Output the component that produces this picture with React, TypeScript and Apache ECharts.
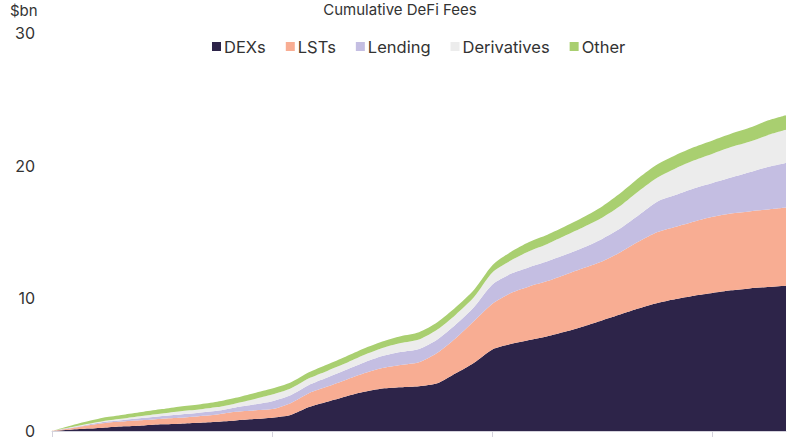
import React, { useEffect, useRef } from "react";
import * as echarts from "echarts";

const months = ["Jan", "Feb", "Mar", "Apr", "May", "Jun", "Jul", "Aug", "Sep", "Oct", "Nov", "Dec"];
const categories: string[] = [];
for (let y = 2020; y <= 2023; y++) {
  for (const m of months) {
    if (categories.length < 41) categories.push(`${m}-${String(y).slice(2)}`);
  }
}

const dexs = [
  0, 0.1, 0.18, 0.27, 0.35, 0.42, 0.5, 0.55, 0.62, 0.7, 0.8, 0.9, 1.0,
  1.2, 1.8, 2.2, 2.6, 2.95, 3.2, 3.3, 3.38, 3.6, 4.35, 5.15, 6.15, 6.55,
  6.85, 7.15, 7.5, 7.9, 8.35, 8.8, 9.25, 9.65, 9.95, 10.2, 10.4, 10.6, 10.75, 10.85, 10.95,
];
const lsts = [
  0, 0.1, 0.25, 0.35, 0.38, 0.4, 0.43, 0.45, 0.5, 0.55, 0.65, 0.65, 0.65,
  0.9, 1.05, 1.15, 1.25, 1.4, 1.55, 1.68, 1.8, 2.3, 2.65, 3.15, 3.45, 3.85,
  4.05, 4.15, 4.3, 4.4, 4.45, 4.7, 5.05, 5.35, 5.45, 5.6, 5.75, 5.8, 5.8, 5.85, 5.9,
];
const lending = [
  0, 0.04, 0.06, 0.09, 0.12, 0.17, 0.2, 0.25, 0.26, 0.28, 0.33, 0.45, 0.6,
  0.6, 0.62, 0.68, 0.75, 0.82, 0.9, 0.97, 1.0, 1.0, 1.02, 1.05, 1.45, 1.45,
  1.45, 1.5, 1.5, 1.55, 1.7, 1.8, 2.0, 2.3, 2.4, 2.5, 2.55, 2.7, 2.95, 3.2, 3.35,
];
const derivatives = [
  0, 0.04, 0.06, 0.09, 0.12, 0.16, 0.19, 0.24, 0.24, 0.27, 0.3, 0.4, 0.5,
  0.5, 0.5, 0.5, 0.5, 0.55, 0.6, 0.68, 0.72, 0.75, 0.75, 0.75, 0.9, 1.0,
  1.2, 1.3, 1.45, 1.55, 1.6, 1.7, 1.8, 1.8, 2.0, 2.1, 2.2, 2.3, 2.3, 2.4, 2.5,
];
const other = [
  0, 0.12, 0.2, 0.25, 0.28, 0.3, 0.33, 0.36, 0.38, 0.4, 0.42, 0.45, 0.45,
  0.45, 0.45, 0.48, 0.5, 0.5, 0.5, 0.52, 0.55, 0.55, 0.55, 0.55, 0.55, 0.65,
  0.7, 0.7, 0.7, 0.75, 0.85, 0.95, 1.0, 1.0, 1.0, 1.0, 1.0, 1.0, 1.05, 1.1, 1.1,
];

const seriesNames = ["DEXs", "LSTs", "Lending", "Derivatives", "Other"];
const seriesData = [dexs, lsts, lending, derivatives, other];
const colors = ["#2d2449", "#f8ad93", "#c4bee2", "#ececec", "#a9cf70"];
const yTicks = [0, 10, 20, 30];

const FONT = "Inter, 'Noto Sans', sans-serif";

export default function App() {
  const ref = useRef<HTMLDivElement>(null);
  useEffect(() => {
    document.body.style.margin = "0";
    if (!ref.current) return;
    const chart = echarts.init(ref.current, null, { renderer: "svg" });
    chart.setOption({
      animation: false,
      textStyle: { fontFamily: FONT },
      title: {
        text: "Cumulative DeFi Fees",
        left: "center",
        top: -3,
        textStyle: { fontSize: 15, fontWeight: "normal", color: "#333", fontFamily: FONT },
      },
      graphic: [
        {
          type: "text",
          left: 10,
          top: 3,
          style: { text: "$bn", fontSize: 15, fill: "#333", fontFamily: FONT },
        },
      ],
      legend: {
        data: seriesNames,
        top: 33,
        left: 207,
        itemWidth: 9,
        itemHeight: 9,
        itemGap: 20,
        icon: "rect",
        textStyle: { fontSize: 16.5, color: "#333", fontFamily: FONT, padding: [0, 0, 0, -2] },
      },
      grid: { left: 52, right: 14, top: 33, bottom: 14, containLabel: false },
      xAxis: {
        type: "category",
        data: categories,
        boundaryGap: false,
        axisLine: { show: true, lineStyle: { color: "#d4d2dc", width: 1 } },
        axisTick: { show: true, interval: 11, length: 6, lineStyle: { color: "#d4d2dc" } },
        axisLabel: { show: false },
        splitLine: { show: false },
      },
      yAxis: {
        type: "value",
        min: yTicks[0],
        max: yTicks[yTicks.length - 1],
        interval: 10,
        axisLine: { show: false },
        axisTick: { show: false },
        splitLine: { show: false },
        axisLabel: { fontSize: 16, color: "#333", margin: 17, fontFamily: FONT },
      },
      series: seriesNames.map((name, i) => ({
        name,
        type: "line",
        stack: "total",
        data: seriesData[i],
        smooth: 0.25,
        showSymbol: false,
        symbol: "none",
        lineStyle: { width: 0 },
        areaStyle: { color: colors[i], opacity: 1 },
        itemStyle: { color: colors[i] },
      })),
    });
    return () => chart.dispose();
  }, []);
  return (
    <div
      ref={ref}
      style={{ position: "absolute", left: 0, top: 0, width: 800, height: 445 }}
    />
  );
}
